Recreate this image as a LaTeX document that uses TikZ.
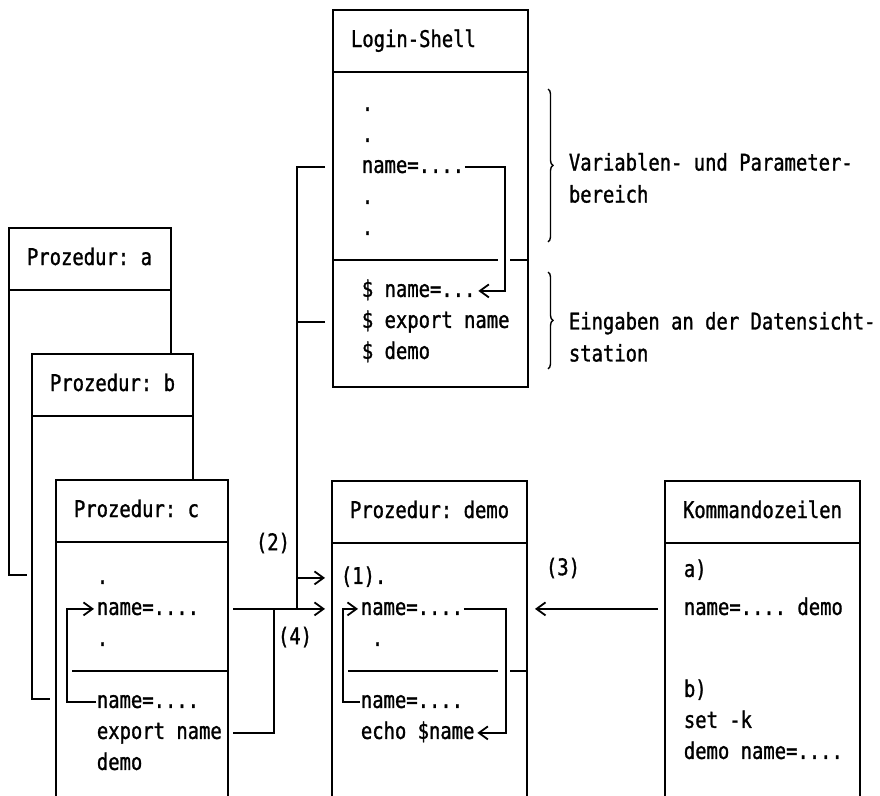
\documentclass[tikz,border=0pt]{standalone}
\usepackage{fontspec}
\setmonofont{DejaVu Sans Mono}[FakeStretch=0.82, FakeBold=1.2]
\usetikzlibrary{arrows.meta}
\usetikzlibrary{calc}
\usetikzlibrary{matrix}
\usetikzlibrary{decorations.pathreplacing}
\tikzset{
  every matrix/.style={
    matrix of nodes, nodes in empty cells,
    inner sep=0, row sep=15pt, anchor=north west,
    nodes={anchor=base west, inner sep=0, text height=14pt, text depth=2pt}
  },
  titlebox/.style={draw, anchor=north west, outer sep=0, minimum height=62pt,
    inner xsep=18pt, inner ysep=0, text width=#1, align=left,
    text height=14pt, text depth=2pt},
  arrow/.style={-{Straight Barb[length=9pt,width=13pt]}, shorten >=2pt},
  brace/.style={decorate, decoration={brace, amplitude=5pt}, line width=1.4pt},
  note/.style={anchor=west, inner sep=0, align=left}
}

\begin{document}
\begin{tikzpicture}[x=1pt, y=-1pt, line width=1.8pt,
    font=\ttfamily\fontsize{23}{32}\selectfont]
  \useasboundingbox (0,0) rectangle (880,795);
  \clip (0,0) rectangle (880,795);

  % Login-Shell
  \node[titlebox=159pt] (lstitle) at (333,10) {\mbox{Login-Shell}};
  \draw (lstitle.south west) rectangle ++(195,315);
  \matrix (lsbody) at (361,96) {
    . \\ . \\ name=.... \\ . \\ . \\ \\
    \$ name=... \\ \$ export name \\ \$ demo \\
  };
  \draw (lstitle.west |- lsbody-6-1) -- ++(165,0);
  \draw (lstitle.east |- lsbody-6-1) -- ++(-18,0);
  \draw [arrow] (lsbody-3-1.east) -- ++(40,0) |- (lsbody-7-1.east);

  \draw [brace] ($(lstitle.east |- lsbody-1-1.north)+(20,-7)$)
    -- ($(lstitle.east |- lsbody-5-1.south)+(20,4)$);
  \node [note] (varnote) at ($(lstitle.east |- lsbody-3-1)+(40,11)$)
    {Variablen- und Parameter-\\bereich};
  \draw [brace] ($(lstitle.east |- lsbody-7-1.north)+(20,-10)$)
    -- ($(lstitle.east |- lsbody-9-1.south)+(20,7)$);
  \node [note] (innote) at ($(lstitle.east |- lsbody-8-1)+(40,15)$)
    {Eingaben an der Datensicht-\\station};

  % Prozeduren a, b, c
  \node[titlebox=126pt] (atitle) at (9,228) {\mbox{Prozedur: a}};
  \node[titlebox=125pt] (btitle) at (32,354) {\mbox{Prozedur: b}};
  \node[titlebox=136pt] (ctitle) at (56,480) {\mbox{Prozedur: c}};
  \draw (atitle.south west) |- ($(atitle.south west)+(18,285)$);
  \draw (atitle.south east) -- (atitle.south east |- btitle.north);
  \draw (btitle.south west) |- ($(btitle.south west)+(18,283)$);
  \draw (btitle.south east) -- (btitle.south east |- ctitle.north);
  \draw (ctitle.south west) rectangle ++(172,260);
  \matrix (cbody) at (96,569) {
    . \\ name=.... \\ . \\ \\ name=.... \\ export name \\ demo \\
  };
  \draw ($(cbody-4-1.west)+(-24,0)$) -- (ctitle.east |- cbody-4-1);
  \draw [arrow] (cbody-5-1.west) -- ++(-29,0) |- (cbody-2-1.west);

  % Prozedur demo
  \node[titlebox=159pt] (dmtitle) at (332,481) {\mbox{Prozedur: demo}};
  \draw (dmtitle.south west) rectangle ++(195,260);
  \matrix (dmbody) at (340,569) {
    |[xshift=-20pt]|(1). \\ name=.... \\ |[xshift=11pt]|. \\ \\
    name=.... \\ echo \$name \\
  };
  \draw ($(dmbody-4-1.west)+(-12,0)$) -- ++(150,0);
  \draw (dmtitle.east |- dmbody-4-1) -- ++(-17,0);
  \draw [arrow] (dmbody-5-1.west) -- ++(-17,0) |- (dmbody-2-1.west);
  \draw [arrow] (dmbody-2-1.east) -- ++(42,0) |- (dmbody-6-1.east);

  % Kommandozeilen
  \node[titlebox=159pt] (kztitle) at (665,481) {\mbox{Kommandozeilen}};
  \draw (kztitle.south west) rectangle ++(195,260);
  \matrix (kzbody) at (683,562) {
    a) \\[7pt] name=.... demo \\[51pt] b) \\ set -k \\ demo name=.... \\
  };

  % connections
  \coordinate (bus) at ($(lstitle.west)+(-36,0)$);
  \draw ($(lstitle.west |- lsbody-3-1)+(-8,0)$) -| (bus |- cbody-2-1);
  \draw ($(lstitle.west |- lsbody-8-1)+(-8,0)$) -- (bus |- lsbody-8-1);
  \draw [arrow] (bus |- dmbody-1-1) -- ($(dmtitle.west |- dmbody-1-1)+(-5,0)$);
  \draw [arrow] ($(ctitle.east |- cbody-2-1)+(5,0)$)
    -- ($(dmtitle.west |- cbody-2-1)+(-5,0)$);
  \draw ($(ctitle.east |- cbody-6-1)+(5,0)$) -| ($(ctitle.east |- cbody-2-1)+(46,0)$);
  \draw [arrow] ($(kztitle.west |- kzbody-2-1)+(-7,0)$)
    -- ($(dmtitle.east |- kzbody-2-1)+(6,0)$);

  \node (lbltwo) at (273,543) {(2)};
  \node (lblfour) at (295,637) {(4)};
  \node (lblthree) at (563,568) {(3)};
\end{tikzpicture}
\end{document}
